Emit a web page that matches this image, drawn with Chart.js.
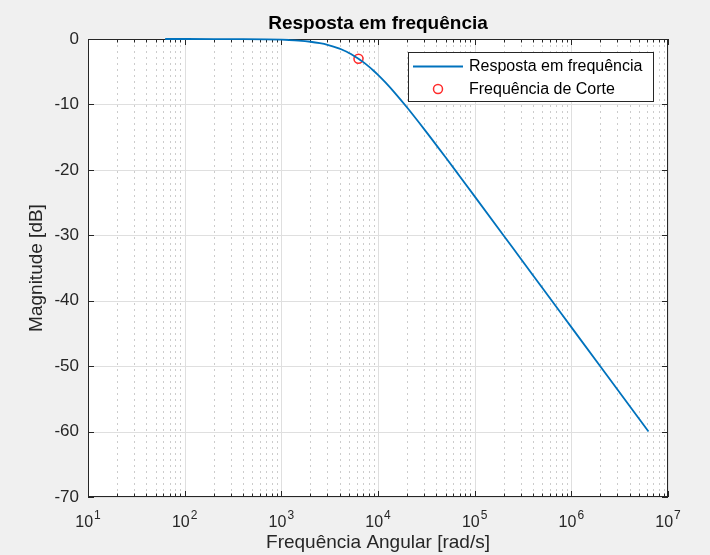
<!DOCTYPE html>
<html><head><meta charset="utf-8">
<script src="https://cdn.jsdelivr.net/npm/chart.js@4"></script>
<style>html,body{margin:0;padding:0;background:#f0f0f0;overflow:hidden}</style>
</head><body>
<canvas id="c" width="710" height="555" style="width:710px;height:555px;display:block"></canvas>
<script>
// ---- data ----
const freqRad = [62.83, 200, 400, 700, 1000, 1200, 1500, 2000, 2500, 3000, 4000, 4500, 5000, 5500, 6283, 7000, 8000, 9000, 10000, 12000, 15000, 20000, 30000, 50000, 70000, 100000, 200000, 300000, 500000, 1000000, 2000000, 6283000];
const magDb   = [0, -0.004, -0.018, -0.054, -0.109, -0.156, -0.24, -0.42, -0.64, -0.89, -1.48, -1.80, -2.13, -2.47, -3.01, -3.50, -4.19, -4.85, -5.48, -6.67, -8.26, -10.47, -13.77, -18.08, -20.97, -24.05, -30.06, -33.59, -38.02, -44.04, -50.06, -60.0];
const cutoffFreq = [6283.19];
const cutoffDb = [-3.01];
const xTickValues = [1e1, 1e2, 1e3, 1e4, 1e5, 1e6, 1e7];
const xTickExponents = ['1', '2', '3', '4', '5', '6', '7'];
const xMinorMultipliers = [2, 3, 4, 5, 6, 7, 8, 9];
const yTickValues = [0, -10, -20, -30, -40, -50, -60, -70];
const titleText = 'Resposta em frequência';
const xLabel = 'Frequência Angular [rad/s]';
const yLabel = 'Magnitude [dB]';
const seriesLabels = ['Resposta em frequência', 'Frequência de Corte'];

const FONT = "'Liberation Sans', Arial, Helvetica, sans-serif";
const AX = '#262626';
const LINE = '#0072BD';
const MARK = '#FF2B2B';

const matlabPlugin = {
  id: 'matlab',
  beforeDraw(chart) {
    const ctx = chart.ctx, a = chart.chartArea;
    const xs = chart.scales.x, ys = chart.scales.y;
    ctx.save();
    ctx.fillStyle = '#f0f0f0';
    ctx.fillRect(0, 0, chart.width, chart.height);
    ctx.fillStyle = '#ffffff';
    ctx.fillRect(a.left, a.top, a.right - a.left, a.bottom - a.top);
    // minor dotted grid
    ctx.lineWidth = 1;
    ctx.strokeStyle = 'rgba(0,0,0,0.2)';
    ctx.setLineDash([2, 4]);
    for (let i = 0; i < xTickValues.length - 1; i++) {
      for (const m of xMinorMultipliers) {
        const px = Math.round(xs.getPixelForValue(m * xTickValues[i])) + 0.5;
        ctx.beginPath(); ctx.moveTo(px, a.top); ctx.lineTo(px, a.bottom); ctx.stroke();
      }
    }
    // major grid
    ctx.setLineDash([]);
    ctx.strokeStyle = '#dfdfdf';
    for (const v of xTickValues) {
      const px = Math.round(xs.getPixelForValue(v)) + 0.5;
      ctx.beginPath(); ctx.moveTo(px, a.top); ctx.lineTo(px, a.bottom); ctx.stroke();
    }
    for (const v of yTickValues) {
      const py = Math.round(ys.getPixelForValue(v)) + 0.5;
      ctx.beginPath(); ctx.moveTo(a.left, py); ctx.lineTo(a.right, py); ctx.stroke();
    }
    ctx.restore();
  },
  beforeDatasetsDraw(chart) {
    const ctx = chart.ctx, a = chart.chartArea;
    const xs = chart.scales.x, ys = chart.scales.y;
    ctx.save();
    // box
    ctx.strokeStyle = AX; ctx.lineWidth = 1;
    ctx.strokeRect(a.left + 0.5, a.top + 0.5, a.right - a.left - 1, a.bottom - a.top - 1);
    // ticks
    ctx.beginPath();
    for (const v of xTickValues) {
      const px = Math.round(xs.getPixelForValue(v)) + 0.5;
      ctx.moveTo(px, a.bottom); ctx.lineTo(px, a.bottom - 6);
      ctx.moveTo(px, a.top); ctx.lineTo(px, a.top + 6);
    }
    for (let i = 0; i < xTickValues.length - 1; i++) {
      for (const m of xMinorMultipliers) {
        const px = Math.round(xs.getPixelForValue(m * xTickValues[i])) + 0.5;
        ctx.moveTo(px, a.bottom); ctx.lineTo(px, a.bottom - 3.5);
        ctx.moveTo(px, a.top); ctx.lineTo(px, a.top + 3.5);
      }
    }
    for (const v of yTickValues) {
      const py = Math.round(ys.getPixelForValue(v)) + 0.5;
      ctx.moveTo(a.left, py); ctx.lineTo(a.left + 6, py);
      ctx.moveTo(a.right, py); ctx.lineTo(a.right - 6, py);
    }
    ctx.stroke();
    ctx.restore();
  },
  afterDraw(chart) {
    const ctx = chart.ctx, a = chart.chartArea;
    const xs = chart.scales.x;
    ctx.save();
    // x tick labels 10^n
    ctx.fillStyle = AX;
    ctx.textBaseline = 'alphabetic';
    xTickValues.forEach((v, i) => {
      const px = xs.getPixelForValue(v);
      ctx.font = '16px ' + FONT;
      const wb = ctx.measureText('10').width;
      ctx.font = '12px ' + FONT;
      const we = ctx.measureText(xTickExponents[i]).width;
      const x0 = px - (wb + we + 1) / 2;
      ctx.font = '16px ' + FONT;
      ctx.textAlign = 'left';
      ctx.fillText('10', x0, 527);
      ctx.font = '12px ' + FONT;
      ctx.fillText(xTickExponents[i], x0 + wb + 1, 519);
    });
    // title
    ctx.font = 'bold 19px ' + FONT;
    ctx.textAlign = 'center';
    ctx.fillStyle = '#000';
    ctx.fillText(titleText, (a.left + a.right) / 2, 29);
    // legend
    const lx = 408, ly = 52, lw = 245, lh = 49;
    ctx.fillStyle = '#fff';
    ctx.fillRect(lx, ly, lw, lh);
    ctx.strokeStyle = AX; ctx.lineWidth = 1;
    ctx.strokeRect(lx + 0.5, ly + 0.5, lw, lh);
    ctx.strokeStyle = LINE; ctx.lineWidth = 1.8;
    ctx.beginPath(); ctx.moveTo(413, 66.5); ctx.lineTo(463, 66.5); ctx.stroke();
    ctx.strokeStyle = MARK; ctx.lineWidth = 1.5;
    ctx.beginPath(); ctx.arc(438, 89, 4.5, 0, Math.PI * 2); ctx.stroke();
    ctx.fillStyle = '#000';
    ctx.font = '16px ' + FONT;
    ctx.textAlign = 'left';
    ctx.textBaseline = 'middle';
    ctx.fillText(chart.data.datasets[0].label, 469, 67);
    ctx.fillText(chart.data.datasets[1].label, 469, 90);
    ctx.restore();
  }
};

new Chart(document.getElementById('c'), {
  type: 'line',
  data: {
    datasets: [
      {
        label: seriesLabels[0],
        data: freqRad.map((f, i) => ({ x: f, y: magDb[i] })),
        borderColor: LINE,
        borderWidth: 1.8,
        pointRadius: 0,
        fill: false,
        clip: false,
        cubicInterpolationMode: 'monotone'
      },
      {
        label: seriesLabels[1],
        data: cutoffFreq.map((f, i) => ({ x: f, y: cutoffDb[i] })),
        showLine: false,
        clip: false,
        pointRadius: 4.5,
        pointStyle: 'circle',
        pointBorderColor: MARK,
        pointBackgroundColor: 'rgba(0,0,0,0)',
        pointBorderWidth: 1.5
      }
    ]
  },
  options: {
    responsive: false,
    devicePixelRatio: 1,
    animation: false,
    layout: { padding: { left: 0, right: 42, top: 39, bottom: 0 } },
    plugins: { legend: { display: false }, title: { display: false }, tooltip: { enabled: false } },
    scales: {
      x: {
        type: 'logarithmic',
        min: 1e1, max: 1e7,
        grid: { display: false },
        border: { display: false },
        ticks: { display: false },
        afterBuildTicks: s => { s.ticks = xTickValues.map(v => ({ value: v })); },
        afterFit: s => { s.height = 58; },
        title: { display: true, text: xLabel, color: AX, font: { family: FONT, size: 19 }, padding: { top: 0, bottom: 1 } }
      },
      y: {
        type: 'linear',
        min: -70, max: 0,
        grid: { display: false },
        border: { display: false },
        afterBuildTicks: s => { s.ticks = yTickValues.map(v => ({ value: v })); },
        ticks: { color: AX, font: { family: FONT, size: 17 }, padding: 1, callback: v => String(v) },
        afterFit: s => { s.width = 88; },
        title: { display: true, text: yLabel, color: AX, font: { family: FONT, size: 19 }, padding: { top: 25, bottom: 0 } }
      }
    }
  },
  plugins: [matlabPlugin]
});
</script>
</body></html>
